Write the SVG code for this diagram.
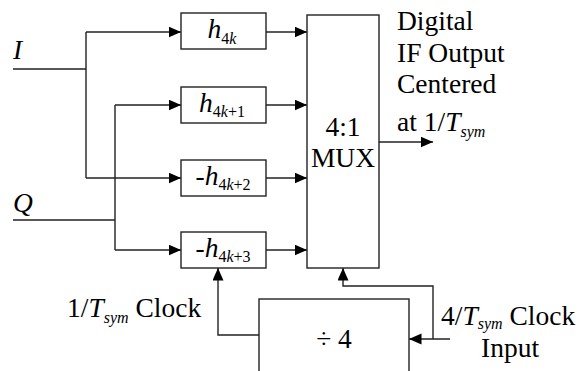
<svg xmlns="http://www.w3.org/2000/svg" width="582" height="371" viewBox="0 0 582 371" font-family="'Liberation Serif', 'Times New Roman', 'DejaVu Serif', serif">
<defs>
<marker id="arr" markerUnits="userSpaceOnUse" markerWidth="13" markerHeight="12" refX="12.5" refY="5.5" orient="auto">
<path d="M0,0 L12.5,5.5 L0,11 z" fill="#000"/>
</marker>
<style>
.box{fill:#fff;stroke:#222;stroke-width:1.4}
.ln{fill:none;stroke:#222;stroke-width:1.4}
.ar{marker-end:url(#arr)}
text{font-family:'Liberation Serif','Times New Roman','DejaVu Serif',serif;font-size:27.5px;fill:#000}
.it{font-style:italic}
.sub{font-size:16px}
</style>
</defs>
<rect width="582" height="371" fill="#fff"/>
<g id="connectors">
<path class="ln" d="M13,69 H86 M86,32 V178"/>
<path class="ln ar" d="M86,32 H181"/>
<path class="ln ar" d="M86,178 H181"/>
<path class="ln" d="M13,220 H115 M115,105 V250"/>
<path class="ln ar" d="M115,105 H181"/>
<path class="ln ar" d="M115,250 H181"/>
<path class="ln ar" d="M266,32 H307"/>
<path class="ln ar" d="M266,105 H307"/>
<path class="ln ar" d="M266,178 H307"/>
<path class="ln ar" d="M266,250 H307"/>
<path class="ln ar" d="M379,142 H433"/>
<path class="ln ar" d="M450,339 H409"/>
<path class="ln ar" d="M433,339 V286 H343 V268"/>
<path class="ln ar" d="M259,335 H218 V268"/>
</g>
<g id="label-I"><text x="13" y="59" class="it">I</text></g>
<g id="label-Q"><text x="13" y="212" class="it">Q</text></g>
<g id="h4k">
<rect class="box" x="181" y="13" width="85" height="36"/>
<text x="222" y="38" text-anchor="middle"><tspan class="it">h</tspan><tspan class="sub" dy="6">4<tspan class="it">k</tspan></tspan></text>
</g>
<g id="h4k1">
<rect class="box" x="181" y="87" width="85" height="36"/>
<text x="222" y="112" text-anchor="middle"><tspan class="it">h</tspan><tspan class="sub" dy="5">4<tspan class="it">k</tspan>+1</tspan></text>
</g>
<g id="h4k2">
<rect class="box" x="181" y="160" width="85" height="36"/>
<text x="223" y="185" text-anchor="middle">-<tspan class="it">h</tspan><tspan class="sub" dy="5">4<tspan class="it">k</tspan>+2</tspan></text>
</g>
<g id="h4k3">
<rect class="box" x="181" y="232" width="85" height="36"/>
<text x="223" y="257" text-anchor="middle">-<tspan class="it">h</tspan><tspan class="sub" dy="5">4<tspan class="it">k</tspan>+3</tspan></text>
</g>
<g id="mux">
<rect class="box" x="307" y="15" width="72" height="253"/>
<text x="343" y="136" text-anchor="middle">4:1</text>
<text x="343" y="167" text-anchor="middle">MUX</text>
</g>
<g id="div4">
<rect class="box" x="259" y="299" width="150" height="90"/>
<text x="334" y="348" text-anchor="middle">÷ 4</text>
</g>
<g id="output-label">
<text x="397" y="30">Digital</text>
<text x="397" y="62">IF Output</text>
<text x="397" y="93">Centered</text>
<text x="397" y="131">at 1/<tspan class="it">T</tspan><tspan class="it sub" dy="6">sym</tspan></text>
</g>
<g id="clock-out-label">
<text x="67" y="317">1/<tspan class="it">T</tspan><tspan class="it sub" dy="6">sym</tspan><tspan dy="-6"> Clock</tspan></text>
</g>
<g id="clock-in-label">
<text x="441" y="325">4/<tspan class="it">T</tspan><tspan class="it sub" dy="4">sym</tspan><tspan dy="-4"> Clock</tspan></text>
<text x="510" y="357" text-anchor="middle">Input</text>
</g>
</svg>
